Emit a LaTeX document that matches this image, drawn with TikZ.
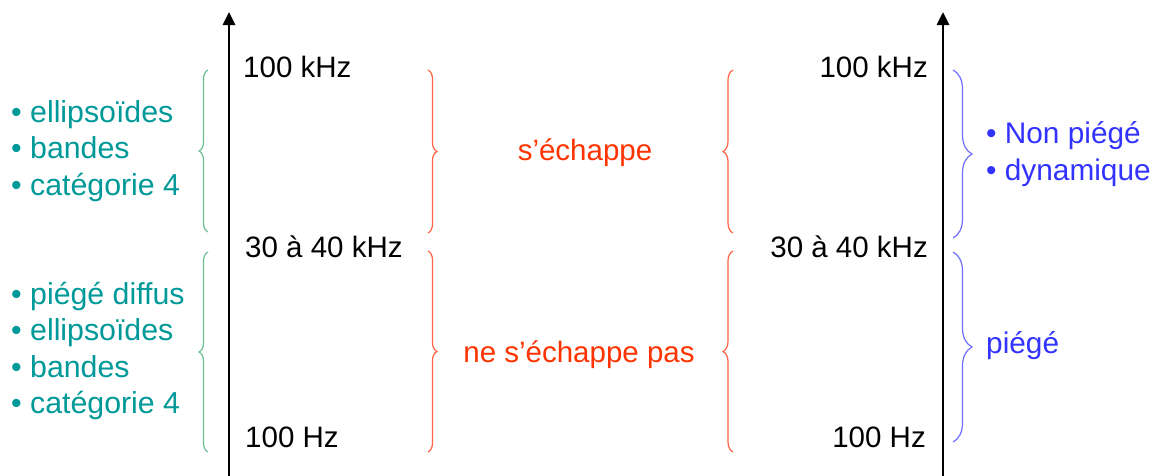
\documentclass[tikz,border=0pt]{standalone}
\usepackage{fontspec}
\setmainfont{Liberation Sans}
\usetikzlibrary{decorations.pathreplacing,arrows.meta}
\definecolor{tealtxt}{RGB}{0,153,153}
\definecolor{greenbr}{RGB}{110,190,150}
\definecolor{orangetxt}{RGB}{255,51,0}
\definecolor{orangebr}{RGB}{255,100,70}
\definecolor{bluetxt}{RGB}{51,51,255}
\definecolor{bluebr}{RGB}{110,110,255}
\tikzset{
  blk/.style={inner sep=0pt,font=\fontsize{29.5}{34}\selectfont,text=black},
  tl/.style={inner sep=0pt,font=\fontsize{30.3}{36}\selectfont,text=tealtxt,anchor=base west},
  ol/.style={inner sep=0pt,font=\fontsize{29.5}{36}\selectfont,text=orangetxt,anchor=base},
  bl/.style={inner sep=0pt,font=\fontsize{29.8}{36}\selectfont,text=bluetxt,anchor=base west},
  brc/.style={decorate,decoration={brace,amplitude=#1},line width=1.2pt},
  axisline/.style={line width=2.9pt,-{Triangle[length=13pt,width=12pt]}}
}
\begin{document}
\begin{tikzpicture}[x=1pt,y=-1pt]
\useasboundingbox[fill=white] (0,0) rectangle (1157,475);
% axes
\coordinate (lBot) at (229,476);
\coordinate (lTop) at (229,12);
\coordinate (rBot) at (943,476);
\coordinate (rTop) at (943,12);
\draw[axisline] (lBot) -- (lTop);
\draw[axisline] (rBot) -- (rTop);
% left axis labels
\node[blk,anchor=base west] (l100k) at (243,77) {100 kHz};
\node[blk,anchor=base west] (l30k) at (245,257) {30 à 40 kHz};
\node[blk,anchor=base west] (l100) at (245,447) {100 Hz};
% right axis labels
\node[blk,anchor=base east] (r100k) at (928,77) {100 kHz};
\node[blk,anchor=base east] (r30k) at (928,257) {30 à 40 kHz};
\node[blk,anchor=base east] (r100) at (926,447) {100 Hz};
% green braces
\draw[brc=9pt,greenbr] (208,232) -- (208,70);
\draw[brc=9pt,greenbr] (208,452) -- (208,252);
% teal lists
\node[tl] (t1) at (11,122) {• ellipsoïdes};
\node[tl] (t2) at (11,158) {• bandes};
\node[tl] (t3) at (11,195) {• catégorie 4};
\node[tl] (t4) at (11,304) {• piégé diffus};
\node[tl] (t5) at (11,340) {• ellipsoïdes};
\node[tl] (t6) at (11,377) {• bandes};
\node[tl] (t7) at (11,413) {• catégorie 4};
% orange braces
\draw[brc=9pt,orangebr] (428,70) -- (428,233);
\draw[brc=9pt,orangebr] (428,251) -- (428,452);
\draw[brc=10pt,orangebr] (733,233) -- (733,70);
\draw[brc=10pt,orangebr] (733,452) -- (733,251);
\node[ol] (o1) at (585,160) {s’échappe};
\node[ol] (o2) at (579,362) {ne s’échappe pas};
% blue braces
\draw[brc=19pt,bluebr] (953,70) -- (953,238);
\draw[brc=19pt,bluebr] (953,252) -- (953,442);
\node[bl] (b1) at (986,143) {• Non piégé};
\node[bl] (b2) at (986,180) {• dynamique};
\node[bl] (b3) at (986,353) {piégé};
\end{tikzpicture}
\end{document}
